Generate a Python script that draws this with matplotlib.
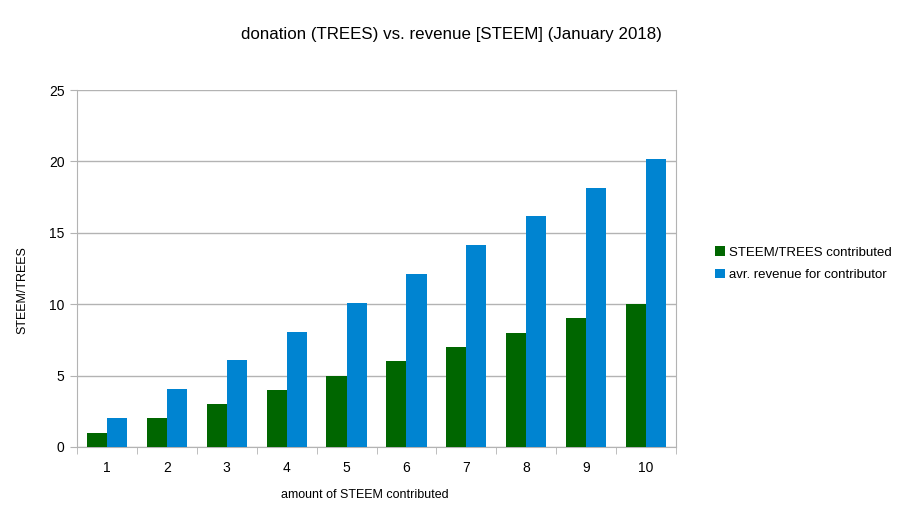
import matplotlib.pyplot as plt
import numpy as np

plt.rcParams['font.family'] = ['Liberation Sans', 'DejaVu Sans']

amounts = [1, 2, 3, 4, 5, 6, 7, 8, 9, 10]
contributed = [1, 2, 3, 4, 5, 6, 7, 8, 9, 10]
revenue = [2.02, 4.04, 6.06, 8.08, 10.1, 12.1, 14.15, 16.15, 18.15, 20.2]

fig = plt.figure(figsize=(9.03, 5.12), dpi=100)
ax = fig.add_axes([0.0853, 0.127, 0.6633, 0.6972])

x = np.arange(len(amounts))
w = 0.335
ax.bar(x - w / 2, contributed, w, color='#006600', label='STEEM/TREES contributed', zorder=3)
ax.bar(x + w / 2, revenue, w, color='#0084d1', label='avr. revenue for contributor', zorder=3)

ax.set_xlim(-0.5, len(amounts) - 0.5)
ax.set_ylim(0, 25)
ax.set_yticks(range(0, 26, 5))
ax.set_xticks(x)
ax.set_xticklabels([str(a) for a in amounts])
ax.set_xticks(np.arange(-0.5, len(amounts), 1), minor=True)
ax.tick_params(axis='x', which='major', length=0, pad=10, labelsize=10)
ax.tick_params(axis='x', which='minor', length=5, color='#b3b3b3', direction='out')
ax.tick_params(axis='y', length=5, color='#b3b3b3', labelsize=10, pad=4)
ax.yaxis.grid(True, color='#b3b3b3', linewidth=1, zorder=0)
for s in ax.spines.values():
    s.set_color('#b3b3b3')
ax.spines['top'].set_visible(False)

fig.text(365 / 903, 1 - 495 / 512, 'amount of STEEM contributed', ha='center', va='center', fontsize=9)
fig.text(22 / 903, 1 - 290 / 512, 'STEEM/TREES', ha='center', va='center', rotation=90, fontsize=9)
fig.text(451 / 903, 1 - 34 / 512, 'donation (TREES) vs. revenue [STEEM] (January 2018)',
         ha='center', va='center', fontsize=12.2)

fig.legend(loc='center left', bbox_to_anchor=(0.779, 0.485), frameon=False, fontsize=9.5,
           handlelength=0.7, handleheight=0.7, handletextpad=0.3, labelspacing=0.75)

fig.savefig('out.png', dpi=100)
